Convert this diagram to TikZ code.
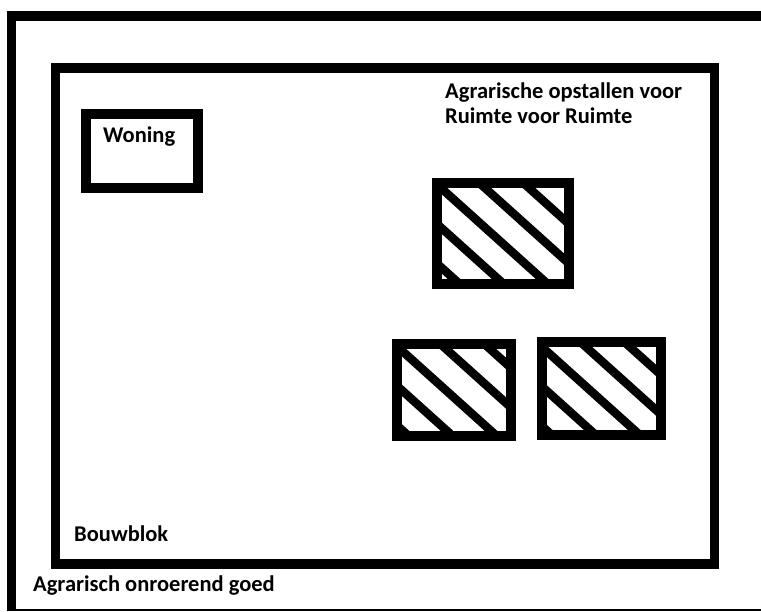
\documentclass[tikz,border=0pt]{standalone}
\usepackage{fontspec}
\setmainfont{Carlito}
\begin{document}
\begin{tikzpicture}[x=1pt,y=-1pt,
  lbl/.style={inner sep=0pt,anchor=base west,font=\fontsize{22.5}{25}\selectfont\bfseries},
  frame/.style={draw=black,line width=9.5pt},
  plot/.style={draw=black,line width=10pt},
  stripe/.style={draw=black,line width=8.5pt}]
\useasboundingbox (0,0) rectangle (761,612);
\fill[white] (0,0) rectangle (761,612);

% outer parcel boundary
\draw[line width=9.5pt] (11.5,11) -- (11.5,611);
\draw[line width=10pt] (7,16) -- (761,16);
\draw[line width=1.5pt] (7,610) -- (761,610);

% building block
\draw[frame] (55.5,68) rectangle (714.5,564);

% house
\draw[plot] (86,114) rectangle (198,188);
\node[lbl] (woning) at (103,143) {Woning};

% hatched farm buildings
% #1 inner x-left, #2 inner y-top, #3 inner x-right, #4 inner y-bottom, #5 stripe offsets on top edge
\newcommand{\hatchedplot}[5]{%
  \begin{scope}
    \clip (#1,#2) rectangle (#3,#4);
    \foreach \xo in {#5} {
      \draw[stripe] (\xo-160,#2-144) -- (\xo+160,#2+144);
    }
  \end{scope}
  \draw[plot] (#1-5,#2-5) rectangle (#3+5,#4+5);
}
\hatchedplot{442}{188}{564}{279}{353,397,441,485,529}
\hatchedplot{402}{349}{506}{431}{312,356,400,446,490}
\hatchedplot{547}{347}{656}{430}{454,498,542,586,630}

% labels
\node[lbl] (opst1) at (445,99) {Agrarische opstallen voor};
\node[lbl] (opst2) at (445,124) {Ruimte voor Ruimte};
\node[lbl] (bouwblok) at (74,541) {Bouwblok};
\node[lbl] (goed) at (33,591) {Agrarisch onroerend goed};
\end{tikzpicture}
\end{document}
